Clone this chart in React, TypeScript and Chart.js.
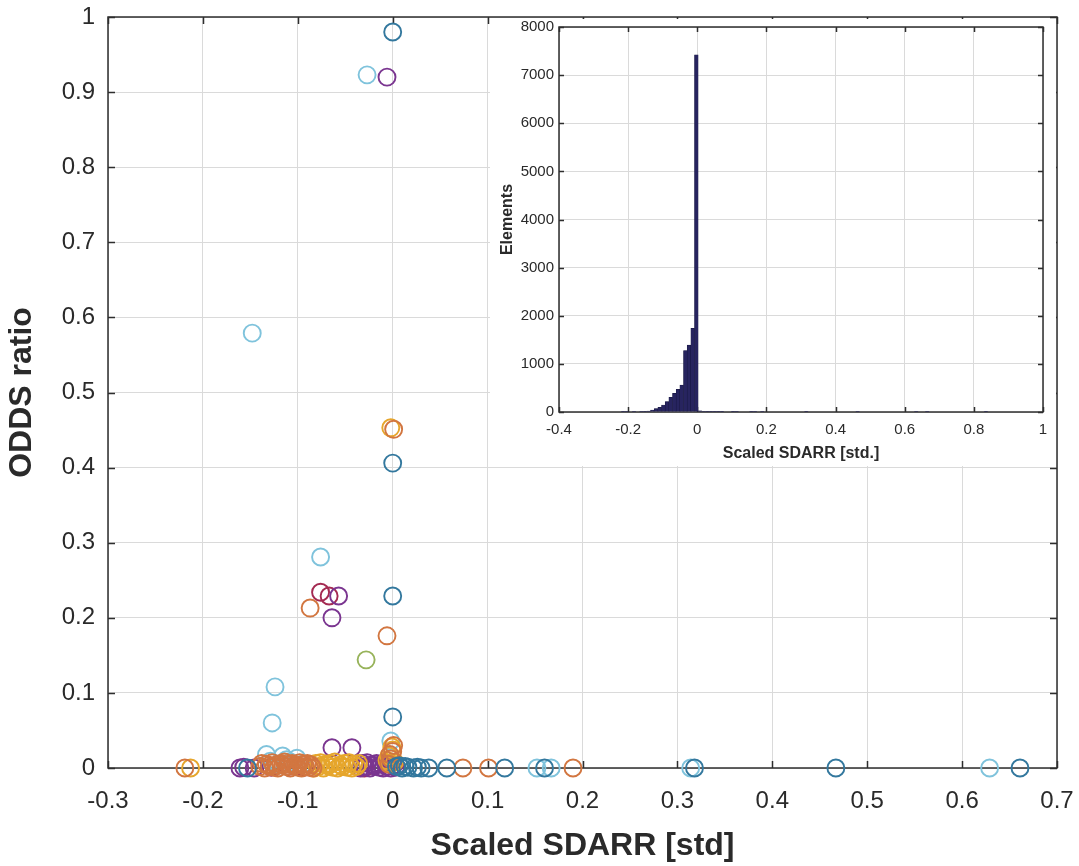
import React, { useEffect, useRef } from "react";
import { Chart, registerables } from "chart.js";

Chart.register(...registerables);

const FONT = "'Liberation Sans', Arial, Helvetica, sans-serif";
const TEXT = "#2a2a2a";
const GRID = "#dadada";
const FRAME = "#2e2e2e";

// ---------- main scatter: axes ----------
const mainXTicks = [-0.3, -0.2, -0.1, 0, 0.1, 0.2, 0.3, 0.4, 0.5, 0.6, 0.7];
const mainYTicks = [0, 0.1, 0.2, 0.3, 0.4, 0.5, 0.6, 0.7, 0.8, 0.9, 1];

// ---------- main scatter: series ----------
const blueX = [0.0, 0.0, 0.0, 0.0, -0.153, 0.004, 0.01, 0.016, 0.022, 0.03, 0.038, 0.057, 0.118, 0.16, 0.318, 0.467, 0.661, 0.007, 0.013, 0.026];
const blueY = [0.98, 0.406, 0.229, 0.068, 0.0, 0.002, 0.0, 0.001, 0.0, 0.0, 0.0, 0.0, 0.0, 0.0, 0.0, 0.0, 0.0, 0.003, 0.002, 0.001];

const lightBlueX = [-0.027, -0.148, -0.076, -0.124, -0.127, -0.133, -0.116, -0.101, -0.108, -0.002, 0.152, 0.167, 0.314, 0.629, -0.12, -0.095, -0.129, -0.112];
const lightBlueY = [0.923, 0.579, 0.281, 0.108, 0.06, 0.018, 0.016, 0.013, 0.008, 0.036, 0.0, 0.0, 0.0, 0.0, 0.004, 0.005, 0.009, 0.011];

const orangeX = [
  0.001, -0.087, -0.006, 0.0, -0.002, -0.219, -0.14, -0.135, -0.13, -0.125, -0.121, -0.116, -0.112, -0.108,
  -0.104, -0.1, -0.096, -0.092, -0.088, -0.084, -0.004, 0.074, 0.101, 0.19,
  -0.138, -0.133, -0.127, -0.123, -0.118, -0.114, -0.11, -0.106, -0.102, -0.098, -0.094, -0.09, -0.086, 0.001, -0.003,
];
const orangeY = [
  0.451, 0.213, 0.176, 0.022, 0.012, 0.0, 0.002, 0.0, 0.003, 0.001, 0.0, 0.004, 0.002, 0.0,
  0.003, 0.001, 0.0, 0.002, 0.001, 0.0, 0.005, 0.0, 0.0, 0.0,
  0.006, 0.005, 0.007, 0.004, 0.006, 0.008, 0.005, 0.006, 0.004, 0.007, 0.005, 0.006, 0.004, 0.03, 0.018,
];

const yellowX = [
  -0.002, -0.213, -0.001, -0.004, 0.002, -0.083, -0.078, -0.073, -0.068, -0.063, -0.058, -0.053, -0.048, -0.043, -0.038, -0.07, -0.055, -0.006,
  -0.081, -0.076, -0.066, -0.061, -0.051, -0.046, -0.041, -0.036, 0.0, -0.003,
];
const yellowY = [
  0.453, 0.0, 0.028, 0.016, 0.008, 0.0, 0.002, 0.0, 0.003, 0.001, 0.0, 0.002, 0.001, 0.0, 0.002, 0.005, 0.004, 0.01,
  0.006, 0.007, 0.006, 0.008, 0.006, 0.007, 0.005, 0.006, 0.024, 0.006,
];

const purpleX = [
  -0.006, -0.057, -0.064, -0.064, -0.043, -0.161, -0.146, -0.034, -0.029, -0.024, -0.019, -0.014, -0.01, -0.006, -0.002, 0.003, -0.022, -0.012,
  -0.032, -0.027, -0.017, -0.008, -0.004, 0.001, -0.157,
];
const purpleY = [
  0.92, 0.229, 0.2, 0.027, 0.027, 0.0, 0.0, 0.0, 0.002, 0.0, 0.003, 0.001, 0.0, 0.002, 0.0, 0.001, 0.004, 0.005,
  0.006, 0.007, 0.006, 0.007, 0.005, 0.004, 0.001,
];

const darkRedX = [-0.076, -0.067, -0.128, -0.11, -0.094, -0.03];
const darkRedY = [0.234, 0.229, 0.001, 0.002, 0.001, 0.0];

const greenX = [-0.028];
const greenY = [0.144];

const seriesList = [
  { name: "blue", xs: blueX, ys: blueY, color: "#33789e" },
  { name: "orange", xs: orangeX, ys: orangeY, color: "#d27640" },
  { name: "yellow", xs: yellowX, ys: yellowY, color: "#e6a62c" },
  { name: "purple", xs: purpleX, ys: purpleY, color: "#7a3590" },
  { name: "green", xs: greenX, ys: greenY, color: "#97b35a" },
  { name: "lightblue", xs: lightBlueX, ys: lightBlueY, color: "#7fc3dc" },
  { name: "darkred", xs: darkRedX, ys: darkRedY, color: "#a42a52" },
];

// ---------- inset histogram ----------
const insetXTicks = [-0.4, -0.2, 0, 0.2, 0.4, 0.6, 0.8, 1];
const insetYTicks = [0, 1000, 2000, 3000, 4000, 5000, 6000, 7000, 8000];
const histStart = -0.22;
const histBinWidth = 0.0106;
const histCounts = [
  4, 1, 0, 1, 0, 1, 3, 20, 42, 70,
  97, 145, 215, 305, 390, 470, 560, 1275, 1390, 1740,
  7420, 25, 12, 8, 15, 5, 3, 2, 0, 0,
  2, 1, 0, 0, 0, 2, 1, 0, 1, 0,
  0, 0, 0, 0, 0, 0, 0, 0, 0, 0,
  2, 0, 0, 0, 0, 0, 0, 0, 0, 0,
  0, 0, 0, 0, 1, 0, 0, 0, 0, 0,
  0, 0, 0, 0, 0, 0, 0, 0, 0, 0,
  1, 0, 0, 1, 0, 0, 0, 0, 0, 0,
  0, 0, 0, 0, 0, 0, 0, 0, 0, 2,
];

const framePlugin = (tickLen: number) => ({
  id: "frameBox",
  beforeDatasetsDraw(chart: any) {
    const { ctx, chartArea: a, scales } = chart;
    ctx.save();
    ctx.strokeStyle = FRAME;
    ctx.lineWidth = 1.5;
    ctx.beginPath();
    scales.x.ticks.forEach((t: any) => {
      const px = Math.round(scales.x.getPixelForValue(t.value)) + 0.5;
      ctx.moveTo(px, a.bottom);
      ctx.lineTo(px, a.bottom - tickLen);
      ctx.moveTo(px, a.top);
      ctx.lineTo(px, a.top + tickLen);
    });
    scales.y.ticks.forEach((t: any) => {
      const py = Math.round(scales.y.getPixelForValue(t.value)) + 0.5;
      ctx.moveTo(a.left, py);
      ctx.lineTo(a.left + tickLen, py);
      ctx.moveTo(a.right, py);
      ctx.lineTo(a.right - tickLen, py);
    });
    ctx.stroke();
    ctx.strokeRect(a.left, a.top, a.right - a.left, a.bottom - a.top);
    ctx.restore();
  },
});

const toTicks = (arr: number[]) => arr.map((v) => ({ value: v }));
const noPad = (sc: any) => {
  sc.paddingTop = 0;
  sc.paddingBottom = 0;
  sc.paddingLeft = 0;
  sc.paddingRight = 0;
};

function MainChart() {
  const ref = useRef<HTMLCanvasElement>(null);
  useEffect(() => {
    if (!ref.current) return;
    const chart = new Chart(ref.current, {
      type: "scatter",
      data: {
        datasets: seriesList.map((s) => ({
          label: s.name,
          data: s.xs.map((x, i) => ({ x, y: s.ys[i] })),
          pointStyle: "circle",
          pointRadius: 8.5,
          pointBorderWidth: 1.9,
          borderColor: s.color,
          backgroundColor: "rgba(0,0,0,0)",
          pointBackgroundColor: "rgba(0,0,0,0)",
          clip: false,
        })),
      },
      plugins: [framePlugin(7)],
      options: {
        animation: false,
        responsive: false,
        devicePixelRatio: 1,
        layout: { autoPadding: false, padding: { top: 17, right: 22, left: 0, bottom: 0 } },
        plugins: { legend: { display: false }, tooltip: { enabled: false } },
        scales: {
          x: {
            type: "linear",
            min: -0.3,
            max: 0.7,
            afterBuildTicks: (sc: any) => { sc.ticks = toTicks(mainXTicks); },
            afterFit: (sc: any) => { sc.height = 98; noPad(sc); },
            grid: { color: GRID, lineWidth: 1, drawTicks: false },
            border: { display: false },
            ticks: {
              padding: 19,
              color: TEXT,
              font: { family: FONT, size: 24 },
              maxRotation: 0,
              callback: (v: any) => String(Math.round(v * 10) / 10),
            },
            title: {
              display: true,
              text: "Scaled SDARR [std]",
              color: TEXT,
              font: { family: FONT, size: 32, weight: "bold" },
              padding: { top: 0, bottom: 1 },
            },
          },
          y: {
            type: "linear",
            min: 0,
            max: 1,
            afterBuildTicks: (sc: any) => { sc.ticks = toTicks(mainYTicks); },
            afterFit: (sc: any) => { sc.width = 108; noPad(sc); },
            grid: { color: GRID, lineWidth: 1, drawTicks: false },
            border: { display: false },
            ticks: {
              padding: 13,
              color: TEXT,
              font: { family: FONT, size: 24 },
              callback: (v: any) => String(Math.round(v * 10) / 10),
            },
            title: {
              display: true,
              text: "ODDS ratio",
              color: TEXT,
              font: { family: FONT, size: 32, weight: "bold" },
              padding: { top: 3, bottom: 0 },
            },
          },
        },
      },
    } as any);
    return () => chart.destroy();
  }, []);
  return <canvas ref={ref} width={1079} height={866} style={{ position: "absolute", left: 0, top: 0, width: 1079, height: 866 }} />;
}

function InsetChart() {
  const ref = useRef<HTMLCanvasElement>(null);
  useEffect(() => {
    if (!ref.current) return;
    const chart = new Chart(ref.current, {
      type: "bar",
      data: {
        datasets: [
          {
            label: "Elements",
            data: histCounts.map((c, i) => ({ x: histStart + (i + 0.5) * histBinWidth, y: c })),
            backgroundColor: "#27245f",
            borderColor: "#15143c",
            borderWidth: 0.5,
            barPercentage: 1,
            categoryPercentage: 1,
          },
        ],
      },
      plugins: [framePlugin(5)],
      options: {
        animation: false,
        responsive: false,
        devicePixelRatio: 1,
        layout: { autoPadding: false, padding: { top: 8, right: 13, left: 0, bottom: 0 } },
        plugins: { legend: { display: false }, tooltip: { enabled: false } },
        scales: {
          x: {
            type: "linear",
            min: -0.4,
            max: 1,
            offset: false,
            afterBuildTicks: (sc: any) => { sc.ticks = toTicks(insetXTicks); },
            afterFit: (sc: any) => { sc.height = 54; noPad(sc); },
            grid: { color: GRID, lineWidth: 1, drawTicks: false, offset: false },
            border: { display: false },
            ticks: {
              padding: 9,
              color: TEXT,
              font: { family: FONT, size: 15 },
              maxRotation: 0,
              callback: (v: any) => String(Math.round(v * 10) / 10),
            },
            title: {
              display: true,
              text: "Scaled SDARR [std.]",
              color: TEXT,
              font: { family: FONT, size: 16, weight: "bold" },
              padding: { top: 0, bottom: 3 },
            },
          },
          y: {
            type: "linear",
            min: 0,
            max: 8000,
            afterBuildTicks: (sc: any) => { sc.ticks = toTicks(insetYTicks); },
            afterFit: (sc: any) => { sc.width = 69; noPad(sc); },
            grid: { color: GRID, lineWidth: 1, drawTicks: false },
            border: { display: false },
            ticks: {
              padding: 5,
              color: TEXT,
              font: { family: FONT, size: 15 },
              callback: (v: any) => String(v),
            },
            title: {
              display: true,
              text: "Elements",
              color: TEXT,
              font: { family: FONT, size: 16, weight: "bold" },
              padding: { top: 8, bottom: 0 },
            },
          },
        },
      },
    } as any);
    return () => chart.destroy();
  }, []);
  return (
    <canvas
      ref={ref}
      width={566}
      height={447}
      style={{ position: "absolute", left: 490, top: 19, width: 566, height: 447, background: "#ffffff" }}
    />
  );
}

export default function App() {
  return (
    <div style={{ position: "absolute", left: 0, top: 0, width: 1079, height: 866, background: "#ffffff", overflow: "hidden" }}>
      <MainChart />
      <InsetChart />
    </div>
  );
}
